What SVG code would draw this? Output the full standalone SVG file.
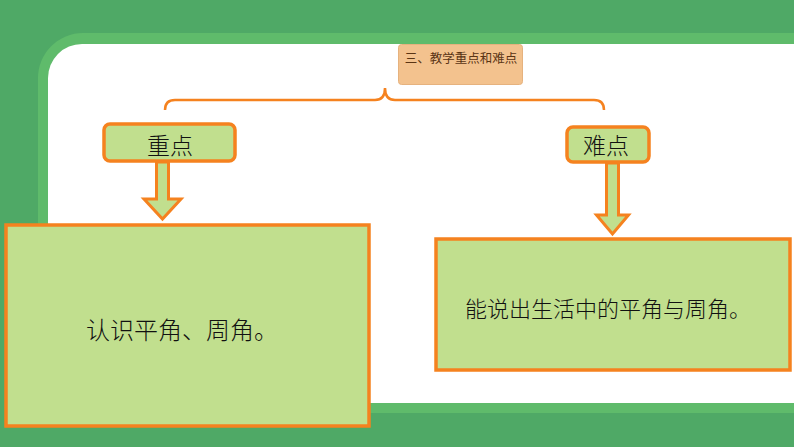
<svg xmlns="http://www.w3.org/2000/svg" width="794" height="447" viewBox="0 0 794 447">
<style>
.box{fill:#c1df8e;stroke:#f5821f;stroke-width:3.5}
.arrow{fill:#c1df8e;stroke:#f5821f;stroke-width:3;stroke-linejoin:miter}
.t{font-family:"Noto Sans CJK SC","Noto Sans",sans-serif;font-weight:300;fill:#111111;text-anchor:middle;dominant-baseline:central}
</style>
<g id="background">
<rect x="0" y="0" width="794" height="447" fill="#4fa966"/>
<rect x="38" y="33" width="820" height="380" rx="45" fill="#5fbb6b"/>
<rect x="48" y="44" width="820" height="359" rx="34" fill="#ffffff"/>
</g>
<g id="title">
<rect x="398.5" y="44.5" width="124" height="40" rx="3" fill="#f3c28e" stroke="#e6b27e" stroke-width="1"/>
<text class="t" x="461" y="57" font-size="12.5" style="fill:#5a3414;font-weight:400">三、教学重点和难点</text>
</g>
<g id="connectors">
<path d="M165,110 Q165,100 175,100 L375,100 Q385,100 385,88 Q385,100 395,100 L594,100 Q604,100 604,110" fill="none" stroke="#f5821f" stroke-width="2.5"/>
<polygon class="arrow" points="156.5,162 168.5,162 168.5,199 181,199 162.5,219 144,199 156.5,199"/>
<polygon class="arrow" points="606.5,163 618.5,163 618.5,215 628.5,215 612.5,234 596.5,215 606.5,215"/>
</g>
<g id="node-zhongdian">
<rect class="box" x="104" y="124" width="131" height="37" rx="6" stroke-width="4"/>
<text class="t" x="170" y="144" font-size="23">重点</text>
</g>
<g id="node-nandian">
<rect class="box" x="567" y="127" width="82" height="35" rx="6" stroke-width="4"/>
<text class="t" x="606" y="144" font-size="23">难点</text>
</g>
<g id="node-left">
<rect class="box" x="6" y="225" width="363" height="201"/>
<text class="t" x="182" y="328" font-size="24">认识平角、周角。</text>
</g>
<g id="node-right">
<rect class="box" x="436" y="239" width="354" height="131"/>
<text class="t" x="608" y="307" font-size="22">能说出生活中的平角与周角。</text>
</g>
</svg>
